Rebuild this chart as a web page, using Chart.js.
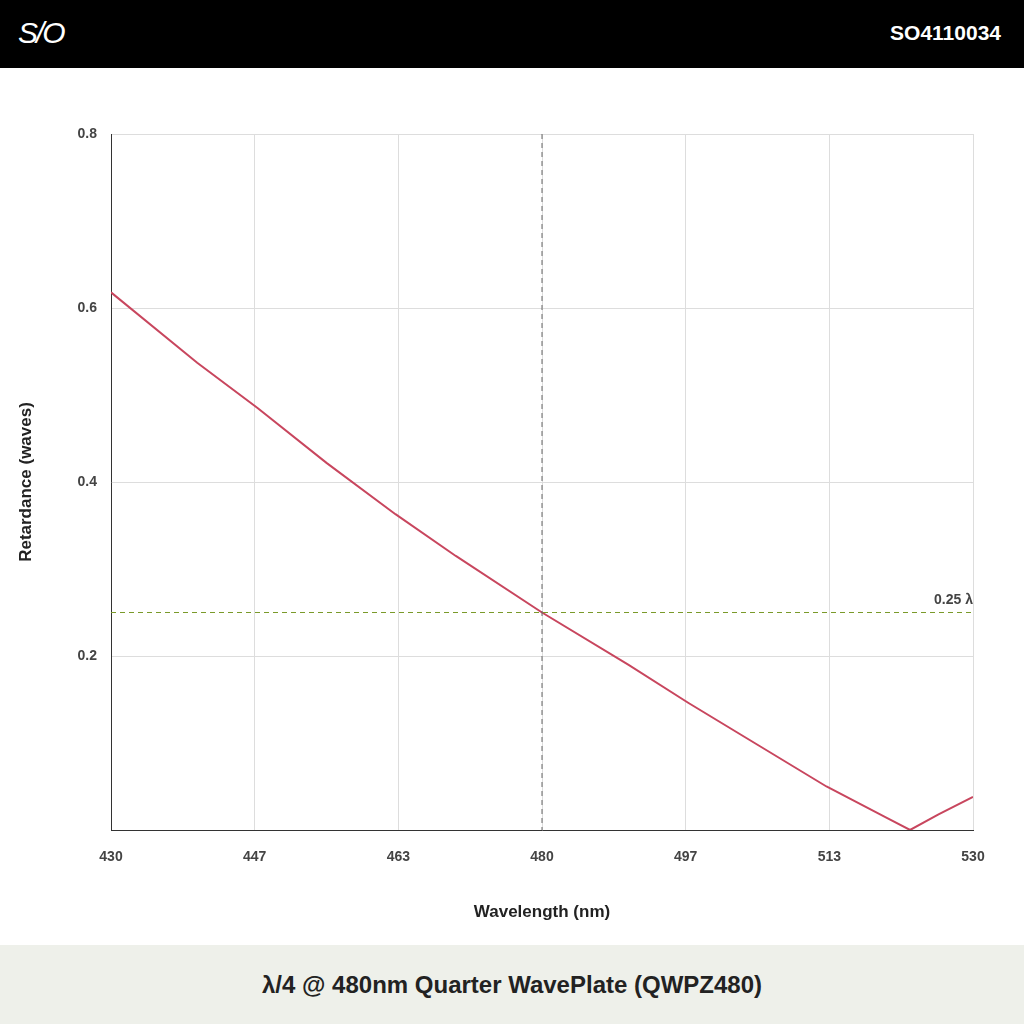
<!DOCTYPE html>
<html>
<head>
<meta charset="utf-8">
<script src="https://cdn.jsdelivr.net/npm/chart.js@4"></script>
<style>
  html, body { margin: 0; padding: 0; width: 1024px; height: 1024px; background: #fff; font-family: "Liberation Sans", Arial, sans-serif; overflow: hidden; }
  #head { position: absolute; left: 0; top: 0; width: 1024px; height: 68px; background: #000; color: #fff; }
  #logo { position: absolute; left: 18px; top: 16px; font-size: 30px; font-style: italic; letter-spacing: -2px; }
  #code { position: absolute; right: 23px; top: 21px; font-size: 21px; font-weight: bold; }
  #wrap { position: absolute; left: 0; top: 0; width: 1024px; height: 945px; }
  #foot { position: absolute; left: 0; top: 945px; width: 1024px; height: 79px; background: #eef0ea; color: #222; font-size: 24px; font-weight: bold; text-align: center; line-height: 79px; }
</style>
</head>
<body>
<div id="wrap"><canvas id="c"></canvas></div>
<div id="head"><div id="logo">S/O</div><div id="code">SO4110034</div></div>
<div id="foot">λ/4 @ 480nm Quarter WavePlate (QWPZ480)</div>
<script>
// dados
const wavelengths = [430, 440, 447, 455, 463, 470, 480, 490, 497, 505, 513, 520, 522.7, 526, 530];
const retardance  = [0.618, 0.537, 0.485, 0.422, 0.363, 0.315, 0.25, 0.19, 0.146, 0.098, 0.05, 0.014, 0.0, 0.018, 0.038];
const xTicks = [430, 446.67, 463.33, 480, 496.67, 513.33, 530];
const yTicks = [0, 0.2, 0.4, 0.6, 0.8];
const designWl = 480;
const quarter = 0.25;

// linhas de referência (480nm e 0.25 λ)
const refLines = {
    id: 'refLines',
    afterDatasetsDraw(chart) {
        const { ctx, scales: { x, y }, chartArea } = chart;
        ctx.save();
        ctx.lineWidth = 1;
        ctx.setLineDash([5, 4]);
        ctx.strokeStyle = '#666';
        const px = x.getPixelForValue(designWl);
        ctx.beginPath(); ctx.moveTo(px, chartArea.top); ctx.lineTo(px, chartArea.bottom); ctx.stroke();
        ctx.strokeStyle = '#7a9a2a';
        const py = y.getPixelForValue(quarter);
        ctx.beginPath(); ctx.moveTo(chartArea.left, py); ctx.lineTo(chartArea.right, py); ctx.stroke();
        ctx.setLineDash([]);
        ctx.fillStyle = '#444';
        ctx.font = 'bold 14px "Liberation Sans", Arial';
        ctx.textAlign = 'right';
        ctx.fillText('0.25 λ', chartArea.right, py - 9);
        ctx.restore();
    }
};

new Chart(document.getElementById('c'), {
    type: 'line',
    data: {
        datasets: [{
            data: wavelengths.map((w, i) => ({ x: w, y: retardance[i] })),
            borderColor: '#c8465e',
            borderWidth: 2,
            pointRadius: 0,
            tension: 0
        }]
    },
    options: {
        responsive: true,
        maintainAspectRatio: false,
        animation: false,
        layout: { padding: { top: 134, right: 51, left: 12, bottom: 0 } },
        plugins: { legend: { display: false }, tooltip: { enabled: false } },
        scales: {
            x: {
                type: 'linear', min: 430, max: 530,
                afterBuildTicks: s => { s.ticks = xTicks.map(v => ({ value: v })); },
                afterFit: s => { s.height = 115; },
                ticks: { color: '#444', font: { size: 14, weight: 'bold' }, padding: 19, maxRotation: 0,
                         callback: v => Math.round(v) },
                grid: { color: '#ddd', drawTicks: false },
                border: { color: '#333' },
                title: { display: true, text: 'Wavelength (nm)', color: '#222', font: { size: 17, weight: 'bold' }, padding: { top: 0, bottom: 22 } }
            },
            y: {
                min: 0, max: 0.8,
                afterBuildTicks: s => { s.ticks = yTicks.map(v => ({ value: v })); },
                afterFit: s => { s.width = 99; },
                ticks: { color: '#444', font: { size: 14, weight: 'bold' }, padding: 14,
                         callback: v => v === 0 ? '' : v.toFixed(1) },
                grid: { color: '#ddd', drawTicks: false },
                border: { color: '#333' },
                title: { display: true, text: 'Retardance (waves)', color: '#222', font: { size: 17, weight: 'bold' }, padding: { bottom: 0 } }
            }
        }
    },
    plugins: [refLines]
});
</script>
</body>
</html>
